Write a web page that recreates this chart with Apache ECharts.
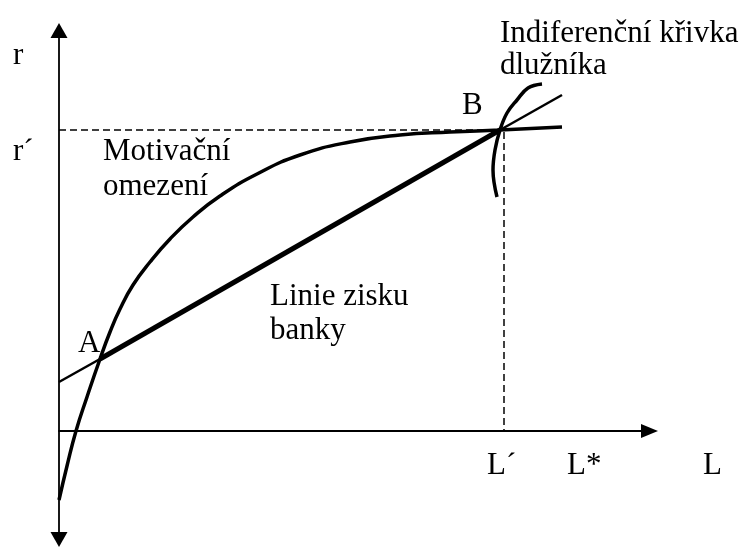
<!DOCTYPE html>
<html lang="cs">
<head>
	<meta charset="UTF-8">
	<title>Motivační omezení</title>
	<style>
		html, body { margin: 0; padding: 0; background: #fff; }
	</style>
</head>
<body>
	<div id="main" style="width: 747px;height: 547px"></div>
	<script src="https://cdn.jsdelivr.net/npm/echarts@6/dist/echarts.min.js"></script>
	<script>
		// osa x = L, osa y = r (jednotky jen relativni)
		var motivace = [[0, -69], [8, -35], [17, 0], [28, 34], [41, 72], [51, 99], [61, 122], [74, 146],
			[91, 169], [111, 192], [134, 214], [161, 235], [198, 257], [241, 276], [291, 289],
			[341, 296], [391, 299], [441, 301], [503, 304]]
		var ziskPred = [[0, 49], [41, 72]]
		var ziskAB = [[41, 72], [441, 301]]
		var ziskZa = [[441, 301], [503, 336]]
		var indiferencni = [[438, 234], [434, 261], [436, 281], [441, 301], [448, 318], [458, 331], [469, 343], [483, 347]]
		var rCara = [[0, 301], [441, 301]]
		var lCara = [[445, 299], [445, 0]]

		var font = '"Liberation Serif", "Times New Roman", serif'

		function txt(s, x, y) {
			return {
				type: 'text', x: x, y: y + 4,
				style: { text: s, font: '31px ' + font, fill: '#000', verticalAlign: 'middle' }
			}
		}

		function cara(data, w, smooth, dash) {
			return {
				type: 'line', data: data, showSymbol: false, smooth: smooth,
				lineStyle: { color: '#000', width: w, type: dash ? [7, 4] : 'solid' }
			}
		}

		var myChart = echarts.init(document.getElementById('main'));
		var option = {
			animation: false,
			grid: { left: 59, top: 30.5, width: 590.5, height: 509 },
			xAxis: {
				type: 'value', min: 0, max: 590.5,
				axisLine: { lineStyle: { color: '#000', width: 1.8 }, symbol: ['none', 'triangle'], symbolSize: [14, 17] },
				axisTick: { show: false }, axisLabel: { show: false }, splitLine: { show: false }
			},
			yAxis: {
				type: 'value', min: -108.5, max: 400.5,
				axisLine: { lineStyle: { color: '#000', width: 1.8 }, symbol: ['triangle', 'triangle'], symbolSize: [17, 15] },
				axisTick: { show: false }, axisLabel: { show: false }, splitLine: { show: false }
			},
			series: [
				cara(rCara, 1.5, false, true),
				cara(lCara, 1.5, false, true),
				cara(motivace, 3.5, 0.5),
				cara(ziskPred, 2.5, false),
				cara(ziskAB, 5, false),
				cara(ziskZa, 2.5, false),
				cara(indiferencni, 3.5, 0.4)
			],
			graphic: [
				txt('r', 13, 51.5),
				txt('r´', 13, 147.5),
				txt('Motivační', 103, 147.5),
				txt('omezení', 103, 182.5),
				txt('Linie zisku', 270, 292.5),
				txt('banky', 270, 326.5),
				txt('A', 78, 339.5),
				txt('B', 462, 101.5),
				txt('Indiferenční křivka', 500, 29.5),
				txt('dlužníka', 500, 61.5),
				txt('L´', 487, 461.5),
				txt('L*', 567, 461.5),
				txt('L', 703, 461.5)
			]
		};
		myChart.setOption(option);
	</script>
</body>
</html>
